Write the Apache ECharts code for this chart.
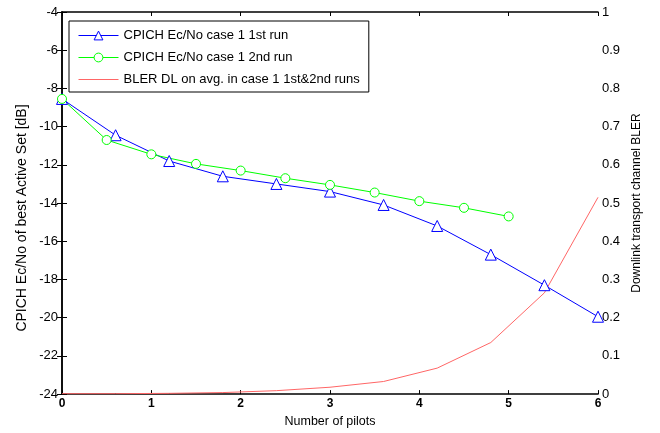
<!DOCTYPE html>
<html><head><meta charset="utf-8">
<script src="https://cdn.jsdelivr.net/npm/echarts@6/dist/echarts.min.js"></script>
<style>html,body{margin:0;padding:0;background:#fff}#c{width:660px;height:433px}</style>
</head><body><div id="c"></div>
<script>
const xBlue = [0, 0.6, 1.2, 1.8, 2.4, 3.0, 3.6, 4.2, 4.8, 5.4, 6.0];
const ecnoRun1 = [-8.55, -10.45, -11.8, -12.6, -13.0, -13.4, -14.1, -15.2, -16.7, -18.3, -19.95];
const xGreen = [0, 0.5, 1.0, 1.5, 2.0, 2.5, 3.0, 3.5, 4.0, 4.5, 5.0];
const ecnoRun2 = [-8.55, -10.7, -11.45, -11.95, -12.3, -12.7, -13.05, -13.45, -13.9, -14.25, -14.7];
const xRed = [0, 0.6, 1.2, 1.8, 2.4, 3.0, 3.6, 4.2, 4.8, 5.4, 6.0];
const blerDL = [0.001, 0.001, 0.002, 0.004, 0.009, 0.018, 0.033, 0.068, 0.135, 0.265, 0.515];
const names = ['CPICH Ec/No case 1 1st run', 'CPICH Ec/No case 1 2nd run', 'BLER DL on avg. in case 1 1st&2nd runs'];
const xTitle = 'Number of pilots';
const yLeftTitle = 'CPICH Ec/No of best Active Set [dB]';
const yRightTitle = 'Downlink transport channel BLER';

const pair = (xs, ys) => xs.map((x, i) => [x, ys[i]]);
const font = 'Liberation Sans, Arial, sans-serif';
const chart = echarts.init(document.getElementById('c'), null, {renderer: 'canvas'});
chart.setOption({
  animation: false,
  backgroundColor: '#fff',
  textStyle: {fontFamily: font},
  grid: {left: 62, right: 62, top: 12, bottom: 38},
  legend: {
    orient: 'vertical', left: 69, top: 21,
    padding: [8, 9, 6, 9], itemGap: 9, itemWidth: 40, itemHeight: 11,
    borderColor: '#000', borderWidth: 1, backgroundColor: '#fff',
    lineStyle: {width: 1},
    itemStyle: {borderWidth: 1},
    textStyle: {fontSize: 13, color: '#000', fontFamily: font},
    data: [
      {name: names[0]},
      {name: names[1]},
      {name: names[2], itemStyle: {opacity: 0}}
    ]
  },
  graphic: [{
    type: 'text', x: 22, y: 218, rotation: Math.PI / 2,
    style: {text: yLeftTitle, font: '14px ' + font, fill: '#000',
      align: 'center', verticalAlign: 'middle'}
  }],
  xAxis: [{
    type: 'value', min: 0, max: 6, interval: 1,
    name: xTitle, nameLocation: 'middle', nameGap: 19,
    nameTextStyle: {fontSize: 12.5, color: '#000'},
    axisLine: {lineStyle: {color: '#000', width: 1.5}},
    axisTick: {inside: true, length: 4, lineStyle: {color: '#000'}},
    axisLabel: {fontSize: 12, fontWeight: 'bold', color: '#000', margin: 4},
    splitLine: {show: false}
  }, {
    type: 'value', min: 0, max: 6, interval: 1, position: 'top',
    axisLine: {lineStyle: {color: '#000', width: 1.5}},
    axisTick: {inside: true, length: 4, lineStyle: {color: '#000'}},
    axisLabel: {show: false}, splitLine: {show: false}
  }],
  yAxis: [{
    type: 'value', min: -24, max: -4, interval: 2,
    axisLine: {show: true, lineStyle: {color: '#000', width: 1.5}},
    axisTick: {show: true, inside: true, length: 5, lineStyle: {color: '#000'}},
    axisLabel: {fontSize: 13, color: '#000', margin: 4},
    splitLine: {show: false}
  }, {
    type: 'value', min: 0, max: 1, interval: 0.1, position: 'right',
    name: yRightTitle, nameLocation: 'middle', nameGap: 27,
    nameTextStyle: {fontSize: 12, color: '#000'},
    axisLine: {show: true, lineStyle: {color: '#000', width: 1.5}},
    axisTick: {show: true, inside: true, length: 5, lineStyle: {color: '#000'}},
    axisLabel: {fontSize: 13, color: '#000', margin: 4,
      formatter: v => (Math.round(v * 10) / 10).toString()},
    splitLine: {show: false}
  }],
  series: [{
    name: names[0], type: 'line', xAxisIndex: 0, yAxisIndex: 0,
    data: pair(xBlue, ecnoRun1),
    symbol: 'triangle', symbolSize: 11, showAllSymbol: true,
    itemStyle: {color: '#fff', borderColor: '#0000ff', borderWidth: 1},
    lineStyle: {color: '#0000ff', width: 1}, color: '#0000ff'
  }, {
    name: names[1], type: 'line', xAxisIndex: 0, yAxisIndex: 0,
    data: pair(xGreen, ecnoRun2),
    symbol: 'circle', symbolSize: 9, showAllSymbol: true,
    itemStyle: {color: '#fff', borderColor: '#00ff00', borderWidth: 1},
    lineStyle: {color: '#00ff00', width: 1}, color: '#00ff00'
  }, {
    name: names[2], type: 'line', xAxisIndex: 0, yAxisIndex: 1,
    data: pair(xRed, blerDL),
    symbol: 'none',
    lineStyle: {color: '#ff6666', width: 1}, itemStyle: {color: '#ff6666'}
  }]
});
</script></body></html>
